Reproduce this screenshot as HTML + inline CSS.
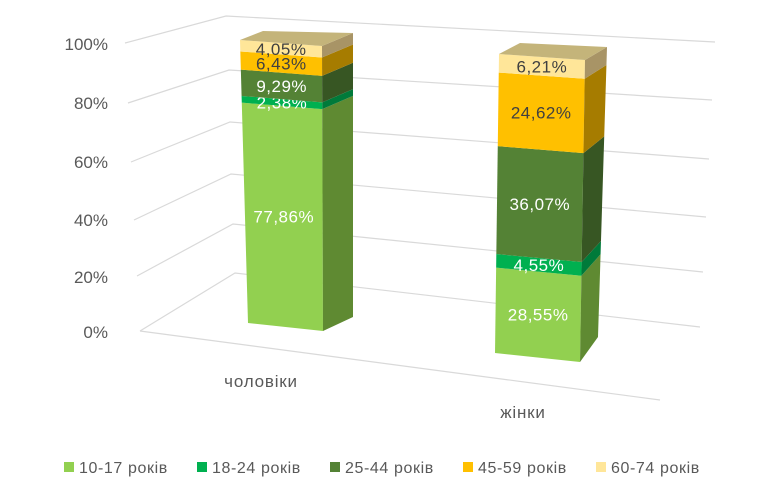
<!DOCTYPE html>
<html><head><meta charset="utf-8"><style>
body{margin:0;background:#fff}
svg{display:block;font-family:"Liberation Sans",sans-serif}
</style></head><body>
<svg id="s" width="773" height="494" viewBox="0 0 773 494">
<g stroke="#d9d9d9" stroke-width="1.2" fill="none">
<polyline points="125,43 226,16 715,42"/>
<polyline points="128,103 229,70 712,100"/>
<polyline points="131,162 230,122 709,159"/>
<polyline points="134,220 231,174 706,217"/>
<polyline points="137,276 233,224 703,272"/>
<polyline points="140,331 235,273 700,327"/>
<line x1="140" y1="331" x2="660" y2="400"/>
</g>
<g fill="#595959" font-size="17" text-anchor="end">
<text x="108" y="50">100%</text>
<text x="108" y="109">80%</text>
<text x="108" y="168">60%</text>
<text x="108" y="226">40%</text>
<text x="108" y="283">20%</text>
<text x="108" y="338">0%</text>
<text x="261" y="387" text-anchor="middle" letter-spacing="0.8">чоловіки</text>
<text x="523" y="418" text-anchor="middle" letter-spacing="0.8">жінки</text>
</g>
<g id="bars"></g>
<g font-size="16" fill="#595959" letter-spacing="0.6">
<rect x="64" y="462" width="10" height="10" fill="#92D050"/><text x="79" y="473">10-17 років</text>
<rect x="197" y="462" width="10" height="10" fill="#00B050"/><text x="212" y="473">18-24 років</text>
<rect x="330" y="462" width="10" height="10" fill="#548235"/><text x="345" y="473">25-44 років</text>
<rect x="463" y="462" width="10" height="10" fill="#FFC000"/><text x="478" y="473">45-59 років</text>
<rect x="596" y="462" width="10" height="10" fill="#FFE699"/><text x="611" y="473">60-74 років</text>
</g>
</svg>
<script>
var front=["#92D050","#00B050","#548235","#FFC000","#FFE699"];
var side=["#5F8A32","#007A3A","#375623","#A67C00","#A89466"];
var tc=["#fff","#fff","#fff","#404040","#404040"];
var bars=[
{v:[77.86,2.38,9.29,6.43,4.05],fl:[248,323,240,40],fr:[323,331,322,46],br:[353,317,353,33],bl:[263,31]},
{v:[28.55,4.55,36.07,24.62,6.21],fl:[495,353,499,54],fr:[580,362,585,60],br:[598,337,607,47],bl:[520,43]}];
function p(e,f){return [e[0]+(e[2]-e[0])*f,e[1]+(e[3]-e[1])*f];}
var h="";
bars.forEach(function(b){
 var c=0,tot=b.v.reduce(function(a,x){return a+x},0);
 b.v.forEach(function(v,i){
  var f0=c/tot,f1=(c+v)/tot;c+=v;
  var a=p(b.fl,f0),bb=p(b.fr,f0),cc=p(b.fr,f1),d=p(b.fl,f1);
  var e=p(b.br,f0),g=p(b.br,f1);
  h+='<polygon fill="'+front[i]+'" points="'+[a,bb,cc,d].join(" ")+'"/>';
  h+='<polygon fill="'+side[i]+'" points="'+[bb,e,g,cc].join(" ")+'"/>';
  var tx=(a[0]+bb[0]+cc[0]+d[0])/4,ty=(a[1]+bb[1]+cc[1]+d[1])/4;
  h+='<text x="'+tx+'" y="'+(ty+6)+'" fill="'+tc[i]+'" font-size="17" letter-spacing="0.5" text-anchor="middle">'+v.toFixed(2).replace(".",",")+'%</text>';
 });
 var tl=[b.fl[2],b.fl[3]],tr=[b.fr[2],b.fr[3]],rb=[b.br[2],b.br[3]];
 h+='<polygon fill="#C4B47A" points="'+[tl,tr,rb,b.bl].join(" ")+'"/>';
});
document.getElementById("bars").innerHTML=h;
</script>
</body></html>
